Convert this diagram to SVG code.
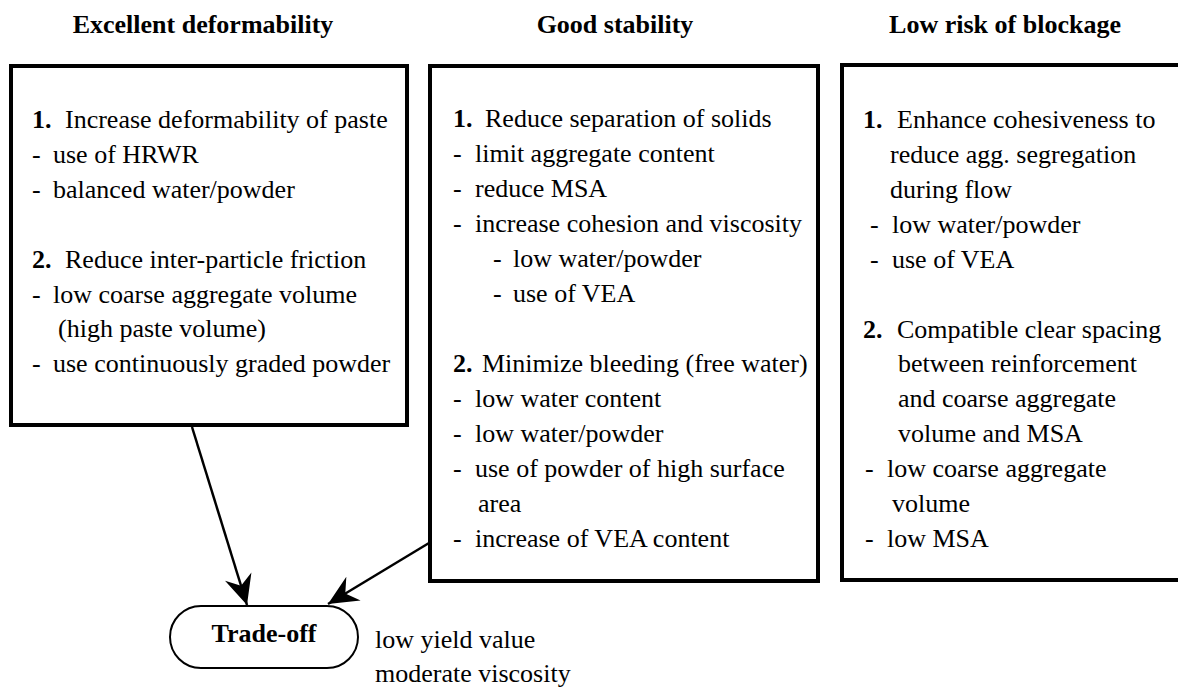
<svg xmlns="http://www.w3.org/2000/svg" width="1178" height="693" viewBox="0 0 1178 693">
<style>
text{font-family:'Liberation Serif','Times New Roman',serif;font-size:26px;fill:#000}
.t{font-weight:bold;text-anchor:middle}
.b{font-weight:bold}
.box{fill:#fff;stroke:#000;stroke-width:4}
.pill{fill:#fff;stroke:#000;stroke-width:2}
.conn{stroke:#000;stroke-width:2.5;fill:none}
</style>
<defs>
<marker id="ah" markerUnits="userSpaceOnUse" markerWidth="34" markerHeight="34" viewBox="-30 -15 32 30" refX="0" refY="0" orient="auto">
<path d="M0,0 L-28,-13 L-19,0 L-28,13 Z" fill="#000"/>
</marker>
</defs>
<rect width="1178" height="693" fill="#fff"/>
<g id="titles">
<text class="t" x="203" y="33">Excellent deformability</text>
<text class="t" x="615" y="33">Good stability</text>
<text class="t" x="1005" y="33">Low risk of blockage</text>
</g>
<g id="node-deformability">
<rect class="box" x="11" y="66" width="396" height="359"/>
<text x="32" y="128"><tspan class="b">1.</tspan><tspan x="65">Increase deformability of paste</tspan></text>
<text x="32" y="163">-<tspan x="53">use of HRWR</tspan></text>
<text x="32" y="198">-<tspan x="53">balanced water/powder</tspan></text>
<text x="32" y="268"><tspan class="b">2.</tspan><tspan x="65">Reduce inter-particle friction</tspan></text>
<text x="32" y="303">-<tspan x="53">low coarse aggregate volume</tspan></text>
<text x="58" y="337">(high paste volume)</text>
<text x="32" y="372">-<tspan x="53">use continuously graded powder</tspan></text>
</g>
<g id="node-stability">
<rect class="box" x="430" y="66" width="388" height="515"/>
<text x="453" y="127"><tspan class="b">1.</tspan><tspan x="485">Reduce separation of solids</tspan></text>
<text x="453" y="162">-<tspan x="475">limit aggregate content</tspan></text>
<text x="453" y="197">-<tspan x="475">reduce MSA</tspan></text>
<text x="453" y="232">-<tspan x="475">increase cohesion and viscosity</tspan></text>
<text x="493" y="267">-<tspan x="513">low water/powder</tspan></text>
<text x="493" y="302">-<tspan x="513">use of VEA</tspan></text>
<text x="453" y="372"><tspan class="b">2.</tspan><tspan x="482">Minimize bleeding (free water)</tspan></text>
<text x="453" y="407">-<tspan x="475">low water content</tspan></text>
<text x="453" y="442">-<tspan x="475">low water/powder</tspan></text>
<text x="453" y="477">-<tspan x="475">use of powder of high surface</tspan></text>
<text x="478" y="512">area</text>
<text x="453" y="547">-<tspan x="475">increase of VEA content</tspan></text>
</g>
<g id="node-blockage">
<rect class="box" x="842" y="65" width="345" height="515"/>
<text x="863" y="128"><tspan class="b">1.</tspan><tspan x="897">Enhance cohesiveness to</tspan></text>
<text x="890" y="163">reduce agg. segregation</text>
<text x="890" y="198">during flow</text>
<text x="870" y="233">-<tspan x="892">low water/powder</tspan></text>
<text x="870" y="268">-<tspan x="892">use of VEA</tspan></text>
<text x="863" y="338"><tspan class="b">2.</tspan><tspan x="897">Compatible clear spacing</tspan></text>
<text x="898" y="372">between reinforcement</text>
<text x="898" y="407">and coarse aggregate</text>
<text x="898" y="442">volume and MSA</text>
<text x="865" y="477">-<tspan x="887">low coarse aggregate</tspan></text>
<text x="892" y="512">volume</text>
<text x="865" y="547">-<tspan x="887">low MSA</tspan></text>
</g>
<g id="node-tradeoff">
<rect class="pill" x="170" y="606" width="188" height="62" rx="31" ry="31"/>
<text class="t" x="264" y="642">Trade-off</text>
<text x="375" y="648">low yield value</text>
<text x="375" y="682">moderate viscosity</text>
</g>
<g id="connectors">
<line class="conn" x1="192" y1="427" x2="247" y2="605" marker-end="url(#ah)"/>
<line class="conn" x1="429" y1="543" x2="328" y2="604" marker-end="url(#ah)"/>
</g>
</svg>
